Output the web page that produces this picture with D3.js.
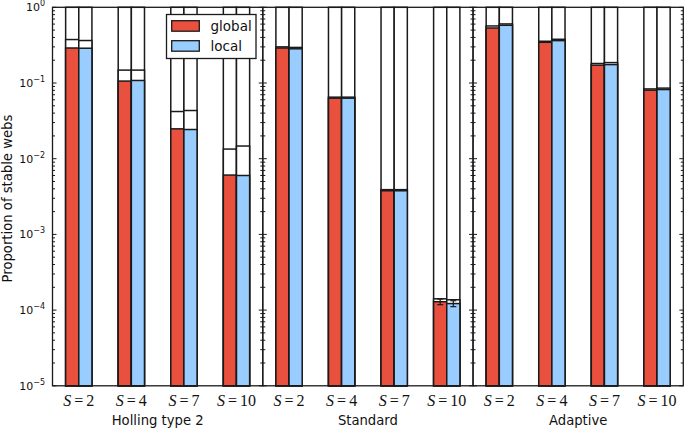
<!DOCTYPE html>
<html>
<head>
<meta charset="utf-8">
<script src="https://cdn.jsdelivr.net/npm/d3@7"></script>
<style>
  html, body { margin: 0; padding: 0; background: #fff; }
  svg { display: block; }
</style>
</head>
<body>
<svg id="chart" width="685" height="428"></svg>
<script>
// ---- data ----
const categories = ["2", "4", "7", "10"];
const panelTitles = ["Holling type 2", "Standard", "Adaptive"];
const seriesNames = ["global", "local"];

// proportion of stable webs (coloured bars)
const hollingGlobal = [0.29, 0.106, 0.0248, 0.00608];
const hollingLocal = [0.288, 0.108, 0.0243, 0.0060];
const standardGlobal = [0.29, 0.063, 0.00377, 0.000129];
const standardLocal = [0.283, 0.063, 0.00377, 0.000122];
const adaptiveGlobal = [0.533, 0.345, 0.172, 0.0804];
const adaptiveLocal = [0.579, 0.363, 0.175, 0.082];

// feasible proportion (inner white bars)
const hollingGlobalFeasible = [0.375, 0.148, 0.042, 0.0134];
const hollingLocalFeasible = [0.364, 0.148, 0.0433, 0.0147];
const standardGlobalFeasible = [0.30, 0.065, 0.0039, 0.000141];
const standardLocalFeasible = [0.295, 0.065, 0.0039, 0.000137];
const adaptiveGlobalFeasible = [0.567, 0.356, 0.181, 0.0835];
const adaptiveLocalFeasible = [0.603, 0.378, 0.186, 0.0856];

// all webs (outer white bars)
const totalAll = [1, 1, 1, 1];

// error of stable proportion
const hollingGlobalErr = [0, 0, 0, 0];
const hollingLocalErr = [0, 0, 0, 0];
const standardGlobalErr = [0, 0, 0, 0.000011];
const standardLocalErr = [0, 0, 0, 0.000011];
const adaptiveGlobalErr = [0, 0, 0, 0];
const adaptiveLocalErr = [0, 0, 0, 0];

const yTickValues = [1, 1e-1, 1e-2, 1e-3, 1e-4, 1e-5];
const yTickExponents = ["0", "\u22121", "\u22122", "\u22123", "\u22124", "\u22125"];

const colors = { global: "#e9503e", local: "#99ccff" };

const panels = [
  { title: panelTitles[0], stable: { global: hollingGlobal, local: hollingLocal },
    feasible: { global: hollingGlobalFeasible, local: hollingLocalFeasible },
    err: { global: hollingGlobalErr, local: hollingLocalErr } },
  { title: panelTitles[1], stable: { global: standardGlobal, local: standardLocal },
    feasible: { global: standardGlobalFeasible, local: standardLocalFeasible },
    err: { global: standardGlobalErr, local: standardLocalErr } },
  { title: panelTitles[2], stable: { global: adaptiveGlobal, local: adaptiveLocal },
    feasible: { global: adaptiveGlobalFeasible, local: adaptiveLocalFeasible },
    err: { global: adaptiveGlobalErr, local: adaptiveLocalErr } }
];

// ---- layout ----
const svg = d3.select("#chart");
const plotLeft = 52.5, plotRight = 683.3, plotTop = 7.3, plotBottom = 385.8;
const pw = (plotRight - plotLeft) / 3;
const y = d3.scaleLog().domain([1e-5, 1]).range([plotBottom, plotTop]);
const ink = "#1a1a1a";

panels.forEach((p, pi) => {
  const x0 = plotLeft + pi * pw;
  const x = d3.scaleBand().domain(categories).range([x0, x0 + pw])
    .paddingInner(0.5).paddingOuter(0.25);
  const xs = d3.scaleBand().domain(seriesNames).range([0, x.bandwidth()]);
  const g = svg.append("g");

  categories.forEach((c, ci) => {
    seriesNames.forEach(s => {
      const bx = x(c) + xs(s), bw = xs.bandwidth();
      // outer white bar
      g.append("rect").attr("x", bx).attr("width", bw)
        .attr("y", y(totalAll[ci])).attr("height", y(1e-5) - y(totalAll[ci]))
        .attr("fill", "#fff").attr("stroke", ink).attr("stroke-width", 1.5);
      // feasible
      const fv = p.feasible[s][ci];
      g.append("rect").attr("x", bx).attr("width", bw)
        .attr("y", y(fv)).attr("height", y(1e-5) - y(fv))
        .attr("fill", "#fff").attr("stroke", ink).attr("stroke-width", 1.5);
      // stable
      const sv = p.stable[s][ci];
      g.append("rect").attr("x", bx).attr("width", bw)
        .attr("y", y(sv)).attr("height", y(1e-5) - y(sv))
        .attr("fill", colors[s]).attr("stroke", ink).attr("stroke-width", 1.5);
      // error bar
      const e = p.err[s][ci];
      if (e > 0) {
        const cx = bx + bw / 2;
        const y1 = y(sv + e), y2 = y(sv - e);
        g.append("line").attr("x1", cx).attr("x2", cx).attr("y1", y1).attr("y2", y2)
          .attr("stroke", ink).attr("stroke-width", 1.2);
        [y1, y2].forEach(yy => g.append("line").attr("x1", cx - 3).attr("x2", cx + 3)
          .attr("y1", yy).attr("y2", yy).attr("stroke", ink).attr("stroke-width", 1.2));
      }
    });
    // x label S=n
    const t = g.append("text").attr("x", x(c) + x.bandwidth() / 2).attr("y", 406)
      .attr("text-anchor", "middle")
      .attr("font-family", "'Liberation Serif', 'DejaVu Serif', serif")
      .attr("font-size", 16).attr("fill", "#111");
    t.append("tspan").attr("font-style", "italic").text("S");
    t.append("tspan").attr("dx", 3).text("=");
    t.append("tspan").attr("dx", 3).text(c);
  });

  // ticks (inward) on left and right spines
  const ticks = y.ticks();
  ticks.forEach(v => {
    const major = Math.abs(Math.log10(v) - Math.round(Math.log10(v))) < 1e-9;
    const len = major ? 4 : 2.5;
    const yy = y(v);
    g.append("line").attr("x1", x0).attr("x2", x0 + len).attr("y1", yy).attr("y2", yy)
      .attr("stroke", ink).attr("stroke-width", 1);
    g.append("line").attr("x1", x0 + pw).attr("x2", x0 + pw - len).attr("y1", yy).attr("y2", yy)
      .attr("stroke", ink).attr("stroke-width", 1);
  });

  // frame
  g.append("rect").attr("x", x0).attr("y", plotTop).attr("width", pw).attr("height", plotBottom - plotTop)
    .attr("fill", "none").attr("stroke", ink).attr("stroke-width", 1.3);

  // panel title
  g.append("text").attr("x", x0 + pw / 2).attr("y", 425).attr("text-anchor", "middle")
    .attr("font-family", "'DejaVu Sans', sans-serif").attr("font-size", 13.2)
    .attr("fill", "#111").text(p.title);
});

// y tick labels
yTickValues.forEach((v, i) => {
  const t = svg.append("text").attr("x", 45).attr("y", y(v) + 4)
    .attr("text-anchor", "end").attr("font-family", "'DejaVu Sans', sans-serif")
    .attr("font-size", 11).attr("fill", "#111");
  t.append("tspan").text("10");
  t.append("tspan").attr("dy", -5).attr("font-size", 8).text(yTickExponents[i]);
});

// y axis label
svg.append("text").attr("transform", `translate(12,${(plotTop + plotBottom) / 2 + 2}) rotate(-90)`)
  .attr("text-anchor", "middle").attr("font-family", "'DejaVu Sans', sans-serif")
  .attr("font-size", 13.2).attr("fill", "#111").text("Proportion of stable webs");

// legend
const lg = svg.append("g");
lg.append("rect").attr("x", 166.5).attr("y", 14.5).attr("width", 89.5).attr("height", 44)
  .attr("fill", "#fff").attr("stroke", ink).attr("stroke-width", 1.3);
seriesNames.forEach((s, i) => {
  const yy = 20.7 + i * 20;
  lg.append("rect").attr("x", 171.7).attr("y", yy).attr("width", 27.6).attr("height", 10.5)
    .attr("fill", colors[s]).attr("stroke", ink).attr("stroke-width", 1.3);
  lg.append("text").attr("x", 210.5).attr("y", yy + 10).attr("font-family", "'DejaVu Sans', sans-serif")
    .attr("font-size", 13.5).attr("fill", "#111").text(s);
});
</script>
</body>
</html>
